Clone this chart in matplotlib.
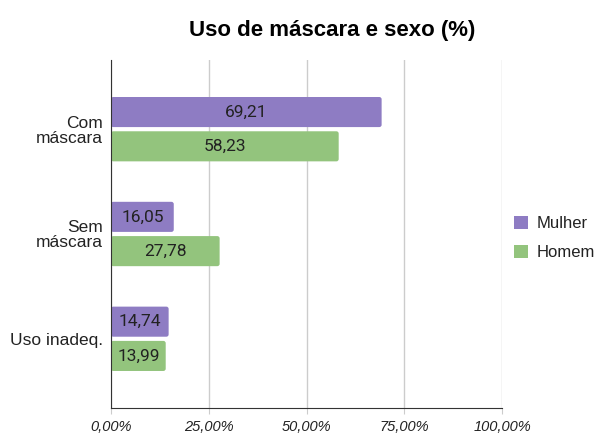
import matplotlib
matplotlib.use("Agg")
import matplotlib.pyplot as plt
from matplotlib.patches import FancyBboxPatch, Patch
from matplotlib.ticker import FuncFormatter

plt.rcParams['font.family'] = ['Roboto', 'DejaVu Sans']
ARIAL = ['Liberation Sans', 'DejaVu Sans']

# data
categorias = ["Com\nmáscara", "Sem\nmáscara", "Uso inadeq."]
mulher = [69.21, 16.05, 14.74]
homem = [58.23, 27.78, 13.99]
cor_mulher = "#8e7cc3"
cor_homem = "#93c47d"

fig = plt.figure(figsize=(6, 4.37), dpi=100)
ax = fig.add_axes([0.185, 0.0664, 0.6517, 0.7963])

h = 0.287
gap = 0.02
pos = list(range(len(categorias)))
bars_m = ax.barh([p - h / 2 - gap for p in pos], mulher, height=h, color=cor_mulher)
bars_h = ax.barh([p + h / 2 + gap for p in pos], homem, height=h, color=cor_homem)

# rounded corners
for b in list(bars_m) + list(bars_h):
    x, y = b.get_x(), b.get_y()
    w, hh = b.get_width(), b.get_height()
    b.set_visible(False)
    ax.add_patch(FancyBboxPatch((x, y), w, hh,
                                boxstyle="round,pad=0,rounding_size=0.6",
                                mutation_aspect=0.037,
                                facecolor=b.get_facecolor(), edgecolor="none",
                                zorder=3))

for bars, vals in ((bars_m, mulher), (bars_h, homem)):
    for b, v in zip(bars, vals):
        ax.text(b.get_x() + b.get_width() / 2, b.get_y() + b.get_height() / 2,
                f"{v:.2f}".replace(".", ","), ha="center", va="center",
                fontsize=12.5, color="#222222", zorder=4)

ax.set_xlim(0, 100)
ax.set_ylim(2.66, -0.66)
ax.set_yticks(pos)
ax.set_yticklabels(categorias, fontsize=12.5, color="#222222", ha="right",
                   multialignment="right", family=ARIAL, linespacing=1.0)
ax.tick_params(axis="y", length=0, pad=6)
ax.set_xticks([0, 25, 50, 75, 100])
ax.xaxis.set_major_formatter(FuncFormatter(lambda v, p: f"{v:.2f}%".replace(".", ",")))
for t in ax.get_xticklabels():
    t.set_fontstyle("italic")
    t.set_fontsize(10.5)
    t.set_color("#222222")
    t.set_family(ARIAL)
ax.tick_params(axis="x", length=4, color="#cccccc", pad=5)

ax.grid(axis="x", color="#cccccc", linewidth=1, zorder=0)
ax.set_axisbelow(True)
for s in ["top", "right"]:
    ax.spines[s].set_visible(False)
ax.spines["left"].set_color("#333333")
ax.spines["bottom"].set_color("#333333")
ax.spines["left"].set_zorder(5)

fig.text(0.553, 0.931, "Uso de máscara e sexo (%)", ha="center", va="center",
         fontsize=16, fontweight="bold", color="#000000", family=ARIAL)

handles = [Patch(facecolor=cor_mulher, label="Mulher"),
           Patch(facecolor=cor_homem, label="Homem")]
fig.legend(handles=handles, loc="center left", bbox_to_anchor=(0.832, 0.455),
           frameon=False, handlelength=0.8, handleheight=0.8,
           labelspacing=0.8, handletextpad=0.55, labelcolor="#222222",
           prop={"family": ARIAL, "size": 12})

fig.savefig("out.png", dpi=100)
